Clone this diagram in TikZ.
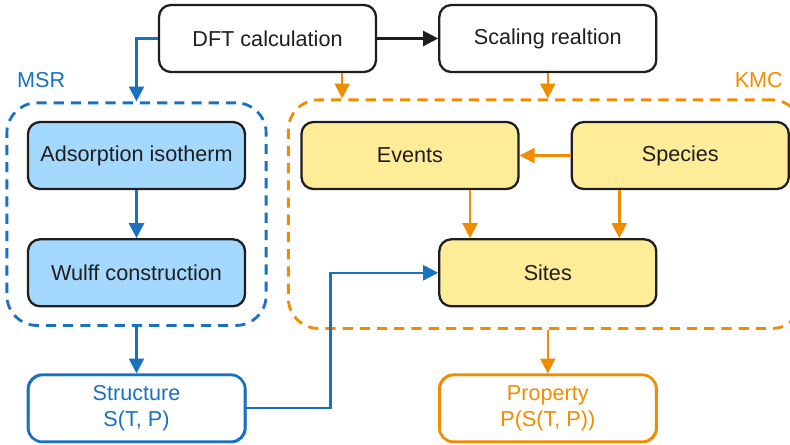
\documentclass[tikz,border=0pt]{standalone}
\usepackage{fontspec}
\setmainfont{Liberation Sans}
\usetikzlibrary{
  arrows.meta,
  positioning,
  fit,
  calc
}
\definecolor{exBlue}{HTML}{1971C2}
\definecolor{exBlueFill}{HTML}{A5D8FF}
\definecolor{exOrange}{HTML}{F08C00}
\definecolor{exYellow}{HTML}{FFEC99}
\definecolor{exInk}{HTML}{1E1E1E}
\tikzset{
  wfnode/.style={
    draw=exInk, rounded corners=0.24cm, minimum height=1.34cm, minimum width=4.34cm,
    font=\fontsize{12.3}{15}\selectfont, align=center, line width=1.3pt, text=exInk
  },
  plainbox/.style={wfnode, fill=white},
  msrbox/.style={wfnode, fill=exBlueFill},
  kmcbox/.style={wfnode, fill=exYellow},
  outbox/.style={wfnode, fill=white, line width=1.5pt, rounded corners=0.28cm,
    postaction={draw, line width=0.8pt, transform canvas={shift={(0.5pt,-0.4pt)}}}},
  frame/.style={draw, dash pattern=on 5.8pt off 4pt, line width=1.6pt, rounded corners=0.6cm},
  tag/.style={font=\fontsize{12.3}{15}\selectfont},
  flow/.style={-{Triangle[length=8.5pt, width=8.5pt]}, line width=1.4pt, exInk},
  bflow/.style={flow, exBlue},
  oflow/.style={flow, exOrange}
}

\begin{document}
\begin{tikzpicture}[node distance=1cm]
  \useasboundingbox (0,0) rectangle (15.8,-8.88);
  % top row
  \node[plainbox] (dft) at (5.35,-0.77) {DFT calculation};
  \node[plainbox, right=1.22cm of dft] (scal) {Scaling realtion};
  % MSR part
  \node[msrbox] (ads) at (2.73,-3.11) {Adsorption isotherm};
  \node[msrbox, below=0.96cm of ads] (wulff) {Wulff construction};
  \node[frame, exBlue, fit=(ads)(wulff), inner xsep=0.4cm, inner ysep=0.36cm] (msr) {};
  \node[tag, text=exBlue, anchor=west] (msrtag) at (0.22,-1.6) {MSR};
  % KMC part
  \node[kmcbox] (events) at (8.2,-3.11) {Events};
  \node[kmcbox, right=1.02cm of events] (spec) {Species};
  \node[kmcbox] (sites) at (scal |- wulff) {Sites};
  \node[frame, exOrange, fit=(events)(spec)(sites), inner xsep=0.24cm, inner ysep=0.42cm] (kmc) {};
  \node[tag, text=exOrange, anchor=east] (kmctag) at (15.78,-1.6) {KMC};
  % outputs
  \node[outbox, draw=exBlue, text=exBlue, below=1.32cm of wulff] (struct) {Structure\\S(T, P)};
  \node[outbox, draw=exOrange, text=exOrange] (prop) at (sites |- struct) {Property\\P(S(T, P))};
  % connectors
  \draw[flow] (dft) -- (scal);
  \draw[bflow] (dft.west) -| (msr.north);
  \draw[oflow] ([xshift=-0.7cm]dft.south east) -- ([xshift=-0.7cm]dft.south east |- kmc.north);
  \draw[oflow] (scal.south) -- (scal.south |- kmc.north);
  \draw[bflow] (ads) -- (wulff);
  \draw[oflow] (spec) -- (events);
  \draw[oflow] ([xshift=1.2cm]events.south) -- ([xshift=1.2cm]events.south |- sites.north);
  \draw[oflow] ([xshift=-1.22cm]spec.south) -- ([xshift=-1.22cm]spec.south |- sites.north);
  \draw[bflow] (msr.south -| struct.north) -- (struct.north);
  \draw[bflow] (struct.east) -- ++(1.68,0) |- (sites.west);
  \draw[oflow] (kmc.south -| prop.north) -- (prop.north);
\end{tikzpicture}
\end{document}
